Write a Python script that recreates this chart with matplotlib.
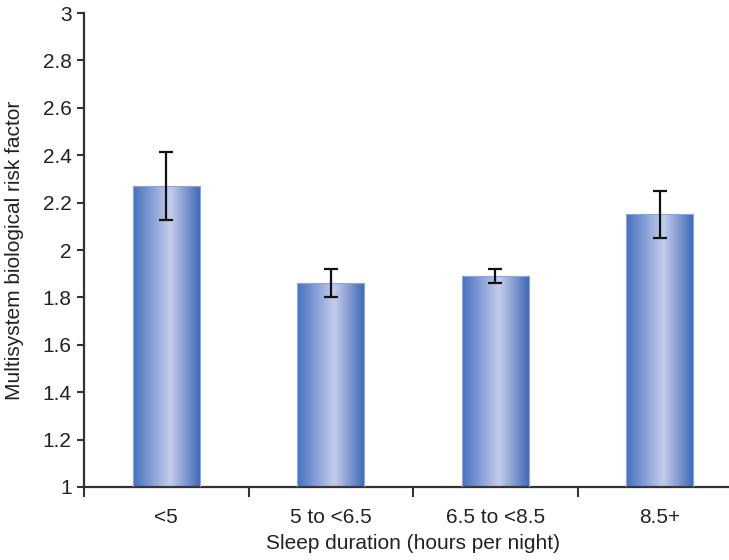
import matplotlib
matplotlib.use("Agg")
import matplotlib.pyplot as plt
import numpy as np
from matplotlib.colors import LinearSegmentedColormap

plt.rcParams['font.family'] = ['Liberation Sans', 'DejaVu Sans']

# data
categories = ['<5', '5 to <6.5', '6.5 to <8.5', '8.5+']
risk = [2.27, 1.86, 1.89, 2.15]
err = [0.145, 0.06, 0.03, 0.10]

# horizontal gradient for the bars: darker blue edges, pale centre
grad_cmap = LinearSegmentedColormap.from_list(
    'bar_grad', [(0.0, '#4670bf'), (0.55, '#c4cceb'), (1.0, '#3d67b6')])

fs = 15

fig = plt.figure(figsize=(7.29, 5.6), dpi=100)
# axes runs past the right edge, as in the original
ax = fig.add_axes([84 / 729, 73 / 560, 658 / 729, 474 / 560])

x = np.arange(len(categories))
bars = ax.bar(x, np.array(risk) - 1, bottom=1, width=0.41,
              facecolor='none', edgecolor='#8aa6dc', linewidth=0.8, zorder=3)

grad = np.linspace(0, 1, 256).reshape(1, -1)
for b in bars:
    x0, y0 = b.get_x(), b.get_y()
    ax.imshow(grad, cmap=grad_cmap, aspect='auto', interpolation='bilinear',
              extent=[x0, x0 + b.get_width(), y0, y0 + b.get_height()], zorder=2)

ax.errorbar(x, risk, yerr=err, fmt='none', ecolor='#111111', elinewidth=1.6,
            capsize=5, capthick=1.6, zorder=4)

ax.set_xlim(-0.5, 3.5)
ax.set_ylim(1, 3)
ax.set_yticks(np.arange(1, 3.01, 0.2))
ax.set_yticklabels(['1', '1.2', '1.4', '1.6', '1.8', '2', '2.2', '2.4', '2.6', '2.8', '3'])

# category labels centred, tick marks between categories
ax.set_xticks(x)
ax.set_xticklabels(categories)
ax.tick_params(axis='x', which='major', length=0, pad=15, labelsize=fs, colors='#222222')
ax.set_xticks(np.arange(-0.5, 3.6, 1), minor=True)
ax.tick_params(axis='x', which='minor', length=7, width=1.5, direction='out', color='#333333')
ax.tick_params(axis='y', length=5, width=1.5, direction='out', pad=4,
               labelsize=fs, colors='#333333', labelcolor='#222222')

for side in ['top', 'right']:
    ax.spines[side].set_visible(False)
for side in ['left', 'bottom']:
    ax.spines[side].set_linewidth(1.6)
    ax.spines[side].set_color('#333333')

ax.set_xlabel('Sleep duration (hours per night)', fontsize=fs, color='#222222', labelpad=5)
ax.set_ylabel('Multisystem biological risk factor', fontsize=fs, color='#222222', labelpad=13)

fig.savefig('out.png', dpi=100)
plt.close(fig)
